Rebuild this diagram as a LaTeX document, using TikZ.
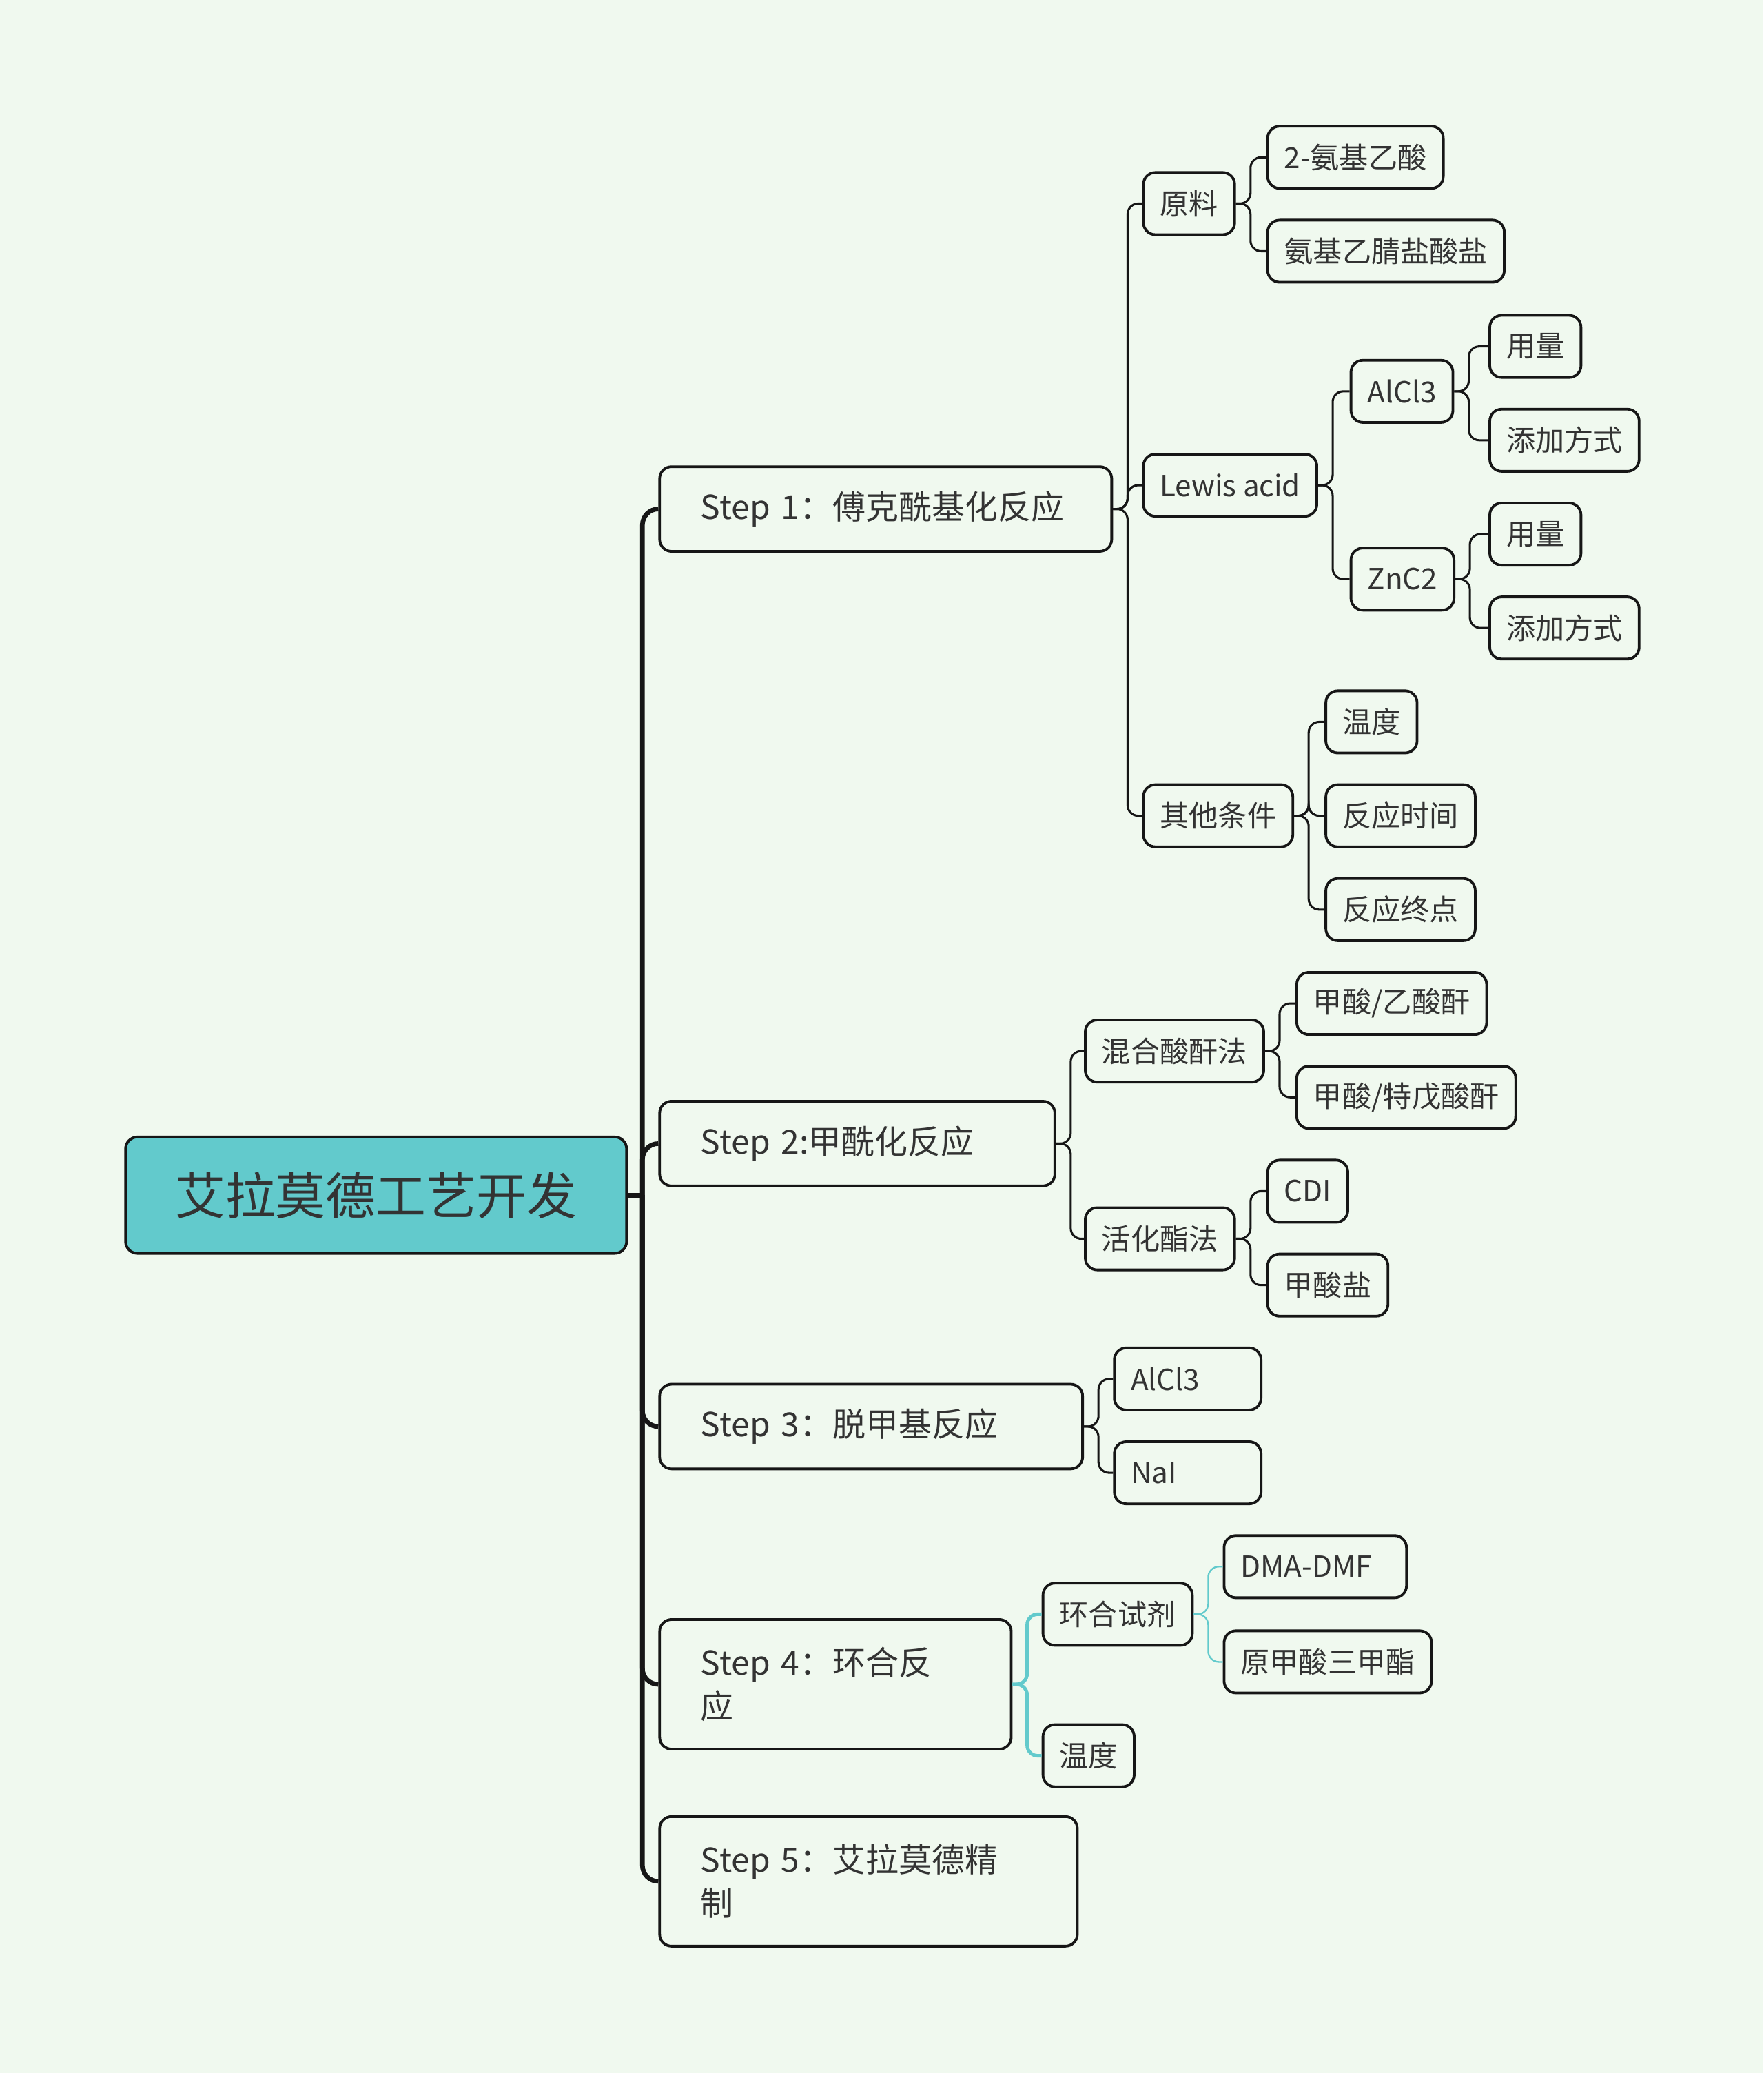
\documentclass[tikz,border=0pt]{standalone}
\usepackage{fontspec}
\setmainfont{Noto Sans CJK SC}
\usepackage{xcolor}
\definecolor{mbg}{RGB}{240,249,239}
\definecolor{mteal}{RGB}{98,202,204}
\definecolor{mline}{RGB}{22,22,22}
\definecolor{mtext}{RGB}{51,51,51}

\begin{document}
\begin{tikzpicture}[x=1pt, y=-1pt, text=mtext]
  \tikzset{box/.style={draw=mline, line width=2pt, rounded corners=9pt, anchor=west, inner xsep=12.5pt, minimum height=47pt, font=\fontsize{22}{26}\selectfont},
    stepbox/.style={box, inner xsep=31pt, minimum height=64pt, align=left, text width=#1, font=\fontsize{25}{33}\selectfont},
    brace/.style={draw=mline, line width=1.6pt, rounded corners=8pt},
    trunk/.style={draw=mline, line width=3.5pt, rounded corners=12pt}}

  \fill[mbg] (0,0) rectangle (1334,1568);
  \useasboundingbox (0,0) rectangle (1334,1568);

  \node[draw=mline, fill=mteal, line width=2pt, rounded corners=9pt, minimum width=379pt, minimum height=88pt, font=\fontsize{38}{44}\selectfont] (root) at (284.5,904) {艾拉莫德工艺开发}; % root

  \node[stepbox=280pt] (s1) at (498,385) {Step 1：傅克酰基化反应};
  \node[stepbox=237pt] (s2) at (498,865) {Step 2:甲酰化反应};
  \node[stepbox=258pt] (s3) at (498,1079) {Step 3：脱甲基反应};
  \node[stepbox=204pt, minimum height=98pt] (s4) at (498,1274) {Step 4：环合反\\应};
  \node[stepbox=254pt, minimum height=98pt] (s5) at (498,1423) {Step 5：艾拉莫德精\\制};

  % step 1
  \node[box] (raw) at (864,154) {原料};
  \node[box] (lewis) at (864,367) {Lewis acid};
  \node[box] (other) at (864,617) {其他条件};
  \node[box] (raw1) at (958,119) {2-氨基乙酸};
  \node[box] (raw2) at (958,190) {氨基乙腈盐酸盐};
  \node[box] (alcl) at (1021,296) {AlCl3};
  \node[box] (znc) at (1021,438) {ZnC2};
  \node[box] (alcl1) at (1126,262) {用量};
  \node[box] (alcl2) at (1126,333) {添加方式};
  \node[box] (znc1) at (1126,404) {用量};
  \node[box] (znc2) at (1126,475) {添加方式};
  \node[box] (other1) at (1002,546) {温度};
  \node[box] (other2) at (1002,617) {反应时间};
  \node[box] (other3) at (1002,688) {反应终点};

  % step 2
  \node[box] (mix) at (820,795) {混合酸酐法};
  \node[box] (act) at (820,937) {活化酯法};
  \node[box] (mix1) at (980,759) {甲酸/乙酸酐};
  \node[box] (mix2) at (980,830) {甲酸/特戊酸酐};
  \node[box] (act1) at (958,901) {CDI};
  \node[box] (act2) at (958,972) {甲酸盐};

  % step 3
  \node[box, text width=86pt] (dem1) at (842,1043) {AlCl3};
  \node[box, text width=86pt] (dem2) at (842,1114) {NaI};

  % step 4
  \node[box] (ring) at (788,1221) {环合试剂};
  \node[box] (temp) at (788,1328) {温度};
  \node[box, text width=113pt] (ring1) at (925,1185) {DMA-DMF};
  \node[box] (ring2) at (925,1257) {原甲酸三甲酯};

  \coordinate (hub) at (486,904);
  \draw[trunk, rounded corners=0pt] (root.east) -- (hub);
  \foreach \n in {s1,s2,s3,s4,s5}
    \draw[trunk] (hub) |- (\n.west);

  \foreach \p/\c in {s1/raw, s1/lewis, s1/other, raw/raw1, raw/raw2, lewis/alcl, lewis/znc,
      alcl/alcl1, alcl/alcl2, znc/znc1, znc/znc2, other/other1, other/other2, other/other3,
      s2/mix, s2/act, mix/mix1, mix/mix2, act/act1, act/act2, s3/dem1, s3/dem2}
    \draw[brace] (\p.east) -- ++(11,0) |- (\c.west);

  \foreach \c in {ring,temp}
    \draw[brace, draw=mteal, line width=2.6pt] (s4.east) -- ++(11,0) |- (\c.west);
  \foreach \c in {ring1,ring2}
    \draw[brace, draw=mteal, line width=1.2pt] (ring.east) -- ++(11,0) |- (\c.west);
\end{tikzpicture}
\end{document}
